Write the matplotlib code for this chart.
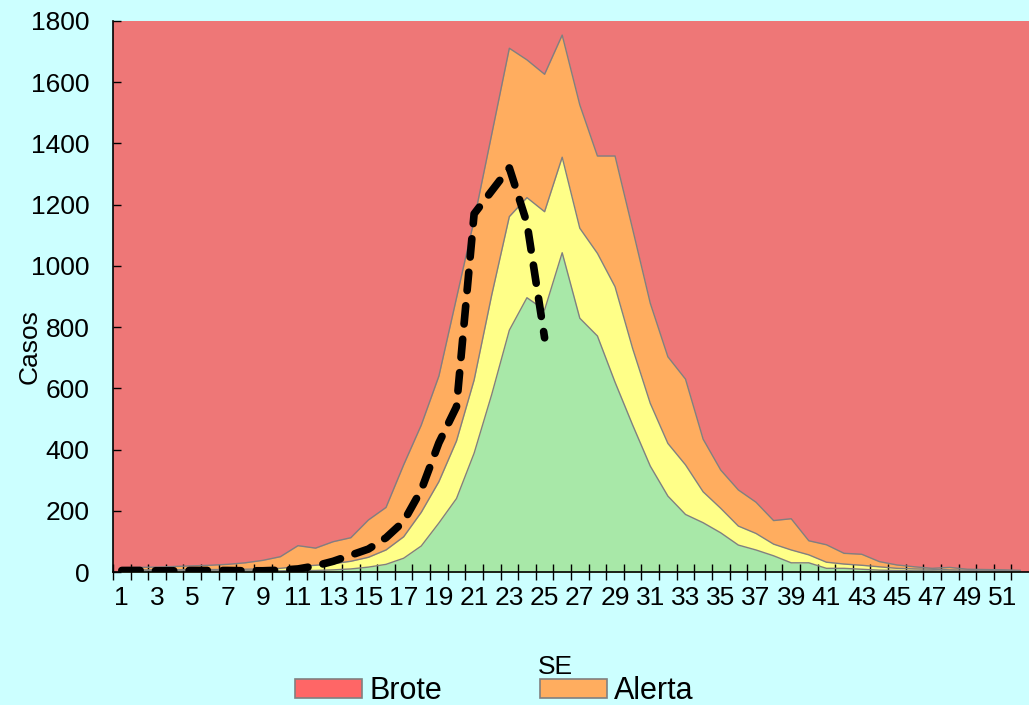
import matplotlib
matplotlib.use("Agg")
import matplotlib.pyplot as plt
from matplotlib.patches import Patch
import numpy as np

plt.rcParams['font.family'] = ['Liberation Sans', 'DejaVu Sans']

# ---- data ----
weeks = list(range(1, 53))
exito_top = [4, 4, 4, 4, 4, 4, 4, 4, 4, 4, 5, 5, 7, 10, 16, 25, 45, 85, 160, 240,
             388, 580, 790, 896, 856, 1043, 829, 771, 620, 480, 346, 248, 188, 161,
             128, 88, 72, 53, 30, 30, 12, 12, 9, 6, 5, 4, 4, 3, 3, 3, 3, 3]
seguridad_top = [7, 7, 7, 7, 8, 8, 8, 9, 10, 12, 18, 22, 27, 35, 48, 72, 115, 195, 295, 428,
                 627, 905, 1161, 1223, 1177, 1355, 1123, 1041, 932, 730, 551, 420, 350, 262,
                 208, 150, 126, 91, 72, 56, 32, 26, 22, 17, 12, 10, 9, 7, 6, 6, 5, 5]
alerta_top = [14, 15, 16, 18, 20, 22, 25, 30, 38, 50, 86, 78, 99, 112, 170, 211, 350, 480, 640, 895,
              1150, 1430, 1711, 1673, 1626, 1754, 1526, 1359, 1359, 1120, 878, 703, 630, 434,
              333, 268, 228, 168, 174, 102, 89, 61, 58, 34, 23, 17, 12, 15, 9, 8, 7, 5]
current_weeks = list(range(1, 26))
current_cases = [5, 5, 4, 4, 5, 5, 5, 4, 4, 6, 10, 20, 35, 55, 75, 112, 165, 268, 422, 540,
                 1170, 1245, 1320, 1140, 765]
y_ticks = [0, 200, 400, 600, 800, 1000, 1200, 1400, 1600, 1800]
x_labels = list(range(1, 53, 2))

# ---- colours ----
bg = '#CCFFFF'
c_brote = '#EE7777'
c_brote_leg = '#FF6666'
c_alerta = '#FFAD5F'
c_seg = '#FFFF88'
c_exito = '#A8E8A8'
edge = '#808080'

fig = plt.figure(figsize=(10.29, 7.05), dpi=100, facecolor=bg)
ax = fig.add_axes([113/1029, 1 - 572/705, 916/1029, 551/705])
ax.set_facecolor(c_brote)

ymax = 1800
ax.fill_between(weeks, alerta_top, ymax, color=c_brote, lw=0)
ax.fill_between(weeks, 0, alerta_top, color=c_alerta, lw=0)
ax.fill_between(weeks, 0, seguridad_top, color=c_seg, lw=0)
ax.fill_between(weeks, 0, exito_top, color=c_exito, lw=0)
for s in (alerta_top, seguridad_top, exito_top):
    ax.plot(weeks, s, color=edge, lw=1.0)

ax.plot(current_weeks, current_cases, color='black', lw=5.5,
        linestyle=(0, (2.4, 2.0)), dash_capstyle='round', solid_capstyle='round')

ax.set_xlim(0.5, 52.5)
ax.set_ylim(0, ymax)

ax.set_xticks(np.arange(0.5, 52.0, 1.0))
ax.set_xticklabels([])
ax.set_xticks(x_labels, minor=True)
ax.set_xticklabels([str(v) for v in x_labels], minor=True, fontsize=19)
ax.tick_params(axis='x', which='major', direction='inout', length=12, width=1, color='black')
ax.tick_params(axis='x', which='minor', length=0, pad=10)

ax.set_yticks(y_ticks)
ax.set_yticklabels([str(v) for v in y_ticks], fontsize=19)
ax.tick_params(axis='y', direction='in', length=6, width=1, pad=17)

for sp in ('top', 'right'):
    ax.spines[sp].set_visible(False)
ax.spines['left'].set_color('black')
ax.spines['bottom'].set_color('black')
ax.spines['left'].set_linewidth(1.2)
ax.spines['bottom'].set_linewidth(1.2)

ax.set_xlabel('SE', fontsize=19, va='center', ha='center')
ax.xaxis.set_label_coords((555 - 113) / 916, (572 - 667) / 551)
ax.set_ylabel('Casos', fontsize=19, va='center', ha='center')
ax.yaxis.set_label_coords((30 - 113) / 916, (572 - 347) / 551)

handles = [Patch(facecolor=c_brote_leg, edgecolor=edge, lw=1.2, label='Brote'),
           Patch(facecolor=c_alerta, edgecolor=edge, lw=1.2, label='Alerta')]
fig.legend(handles=handles, ncol=2, loc='upper left',
           bbox_to_anchor=(295/1029, 1 - 676/705), frameon=False, fontsize=22,
           handlelength=2.2, handleheight=0.56, handletextpad=0.23,
           columnspacing=3.2, borderpad=0, borderaxespad=0)

fig.savefig('out.png', dpi=100, facecolor=bg)
